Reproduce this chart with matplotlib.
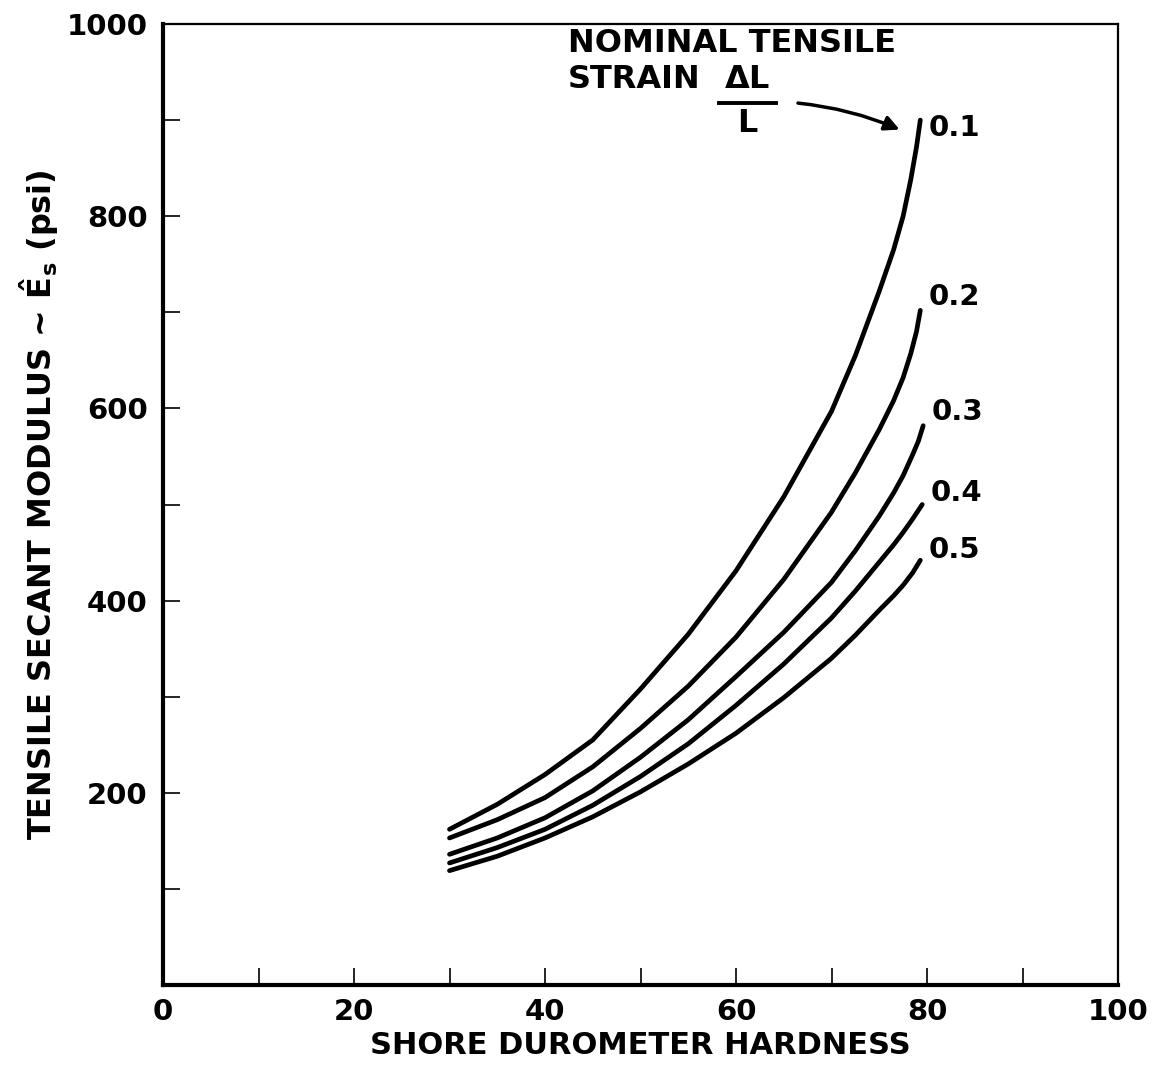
import matplotlib
matplotlib.use("Agg")
import matplotlib.pyplot as plt

# values (shore hardness vs secant modulus, psi)
strain_labels = ["0.1", "0.2", "0.3", "0.4", "0.5"]

x_01 = [30, 35, 40, 45, 50, 55, 60, 65, 70, 72.5, 75, 76.5, 77.5, 78.3, 78.9, 79.3]
y_01 = [162, 188, 219, 255, 308, 365, 431, 508, 597, 655, 722, 765, 800, 838, 872, 900]

x_02 = [30, 35, 40, 45, 50, 55, 60, 65, 70, 72.5, 75, 76.5, 77.5, 78.3, 78.9, 79.3]
y_02 = [153, 172, 195, 227, 267, 311, 362, 422, 492, 533, 578, 608, 632, 657, 680, 702]

x_03 = [30, 35, 40, 45, 50, 55, 60, 65, 70, 72.5, 75, 76.5, 77.5, 78.5, 79.1, 79.6]
y_03 = [136, 153, 174, 202, 237, 276, 321, 367, 419, 452, 488, 512, 530, 552, 566, 582]

x_04 = [30, 35, 40, 45, 50, 55, 60, 65, 70, 72.5, 75, 76.5, 77.5, 78.5, 79.5]
y_04 = [127, 143, 162, 187, 217, 251, 291, 334, 382, 410, 440, 458, 471, 485, 500]

x_05 = [30, 35, 40, 45, 50, 55, 60, 65, 70, 72.5, 75, 76.5, 77.5, 78.5, 79.3]
y_05 = [119, 134, 153, 175, 201, 230, 262, 299, 340, 364, 390, 405, 416, 429, 442]

x_ticks = list(range(0, 101, 10))
x_ticklabels = ["0", "", "20", "", "40", "", "60", "", "80", "", "100"]
y_ticks = list(range(0, 1001, 100))
y_ticklabels = ["", "", "200", "", "400", "", "600", "", "800", "", "1000"]

plt.rcParams['font.family'] = ['DejaVu Sans']
plt.rcParams['font.weight'] = 'bold'
plt.rcParams['mathtext.fontset'] = 'dejavusans'

fig = plt.figure(figsize=(11.61, 10.66), dpi=100)
ax = fig.add_axes([163 / 1161, 81 / 1066, 955 / 1161, 961 / 1066])

series = [(x_01, y_01), (x_02, y_02), (x_03, y_03), (x_04, y_04), (x_05, y_05)]
label_dy = [-8, 14, 14, 12, 11]  # label offset from the curve end
for (xs, ys), lab, dy in zip(series, strain_labels, label_dy):
    ax.plot(xs, ys, color='black', lw=3.4, solid_capstyle='round',
            solid_joinstyle='round')
    ax.text(xs[-1] + 0.9, ys[-1] + dy, lab, fontsize=21, fontweight='bold',
            ha='left', va='center')

ax.set_xlim(0, 100)
ax.set_ylim(0, 1000)
ax.set_xticks(x_ticks)
ax.set_xticklabels(x_ticklabels)
ax.set_yticks(y_ticks)
ax.set_yticklabels(y_ticklabels)
ax.tick_params(direction='in', length=12, width=1.2, labelsize=21, pad=9)
ax.tick_params(axis='y', pad=11)

for side in ['left', 'bottom']:
    ax.spines[side].set_linewidth(3.0)
for side in ['top', 'right']:
    ax.spines[side].set_linewidth(1.6)

ax.set_xlabel("SHORE DUROMETER HARDNESS", fontsize=22, fontweight='bold', labelpad=4)
ax.set_ylabel(r"TENSILE SECANT MODULUS ~ $\hat{\mathbf{E}}_{\mathbf{s}}$ (psi)",
              fontsize=23, fontweight='bold', labelpad=4)

# header annotation
ax.text(42.4, 980, "NOMINAL TENSILE", fontsize=23, fontweight='bold', va='center')
ax.text(42.4, 942, "STRAIN", fontsize=23, fontweight='bold', va='center')
ax.text(61.2, 942, r"$\mathbf{\Delta}$L", fontsize=23, fontweight='bold',
        ha='center', va='center')
ax.plot([58.2, 64.2], [918, 918], color='black', lw=2.8)
ax.text(61.2, 896, "L", fontsize=23, fontweight='bold', ha='center', va='center')
ax.annotate("", xy=(77.4, 889), xytext=(66.2, 918),
            arrowprops=dict(arrowstyle='-|>', color='black', lw=2.5,
                            mutation_scale=22,
                            connectionstyle='arc3,rad=-0.08'))

plt.savefig("out.png", dpi=100)
plt.close(fig)
